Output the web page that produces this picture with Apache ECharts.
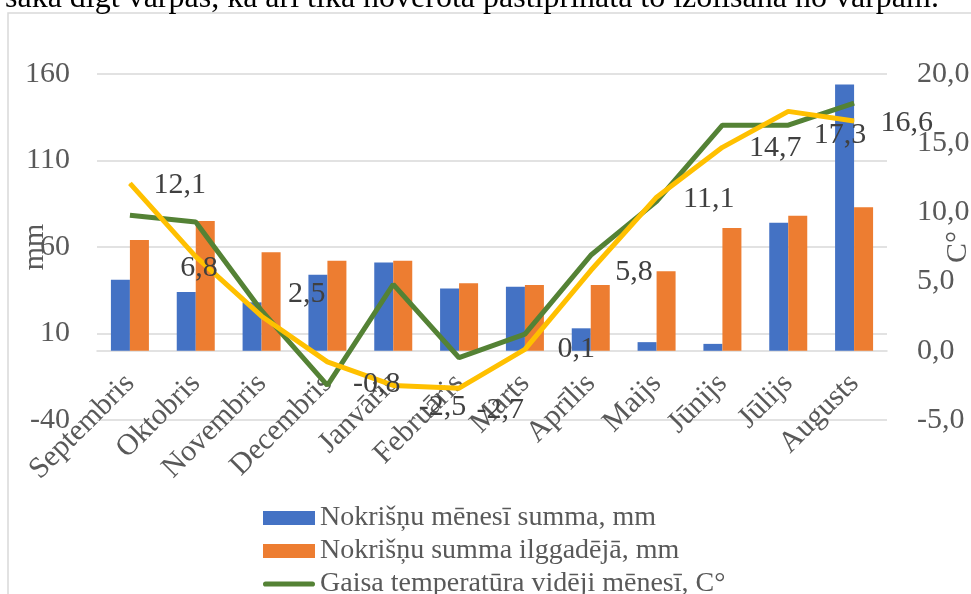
<!DOCTYPE html>
<html>
<head>
<meta charset="utf-8" />
<title>Nokrišņi un gaisa temperatūra</title>
<script src="https://cdn.jsdelivr.net/npm/echarts@6.0.0/dist/echarts.min.js"></script>
<style>
    *{
        margin:0;
        padding:0;
    }
    html, body{
        width:971px;
        height:594px;
        background:#fff;
        overflow:hidden;
    }
    #main{
        width:971px;
        height:594px;
    }
</style>
</head>
<body>
<div id="main"></div>
<script type="text/javascript">
    // dati
    var months = ['Septembris', 'Oktobris', 'Novembris', 'Decembris', 'Janvāris', 'Februāris',
        'Marts', 'Aprīlis', 'Maijs', 'Jūnijs', 'Jūlijs', 'Augusts'];
    var rainMonth = [41, 34, 28, 44, 51, 36, 37, 13, 5, 4, 74, 154];
    var rainLongTerm = [64, 75, 57, 52, 52, 39, 38, 38, 46, 71, 78, 83];
    var tempMonth = [9.8, 9.3, 2.9, -2.5, 4.8, -0.5, 1.2, 6.9, 10.8, 16.3, 16.3, 17.9];
    var tempLongTerm = [12.1, 6.8, 2.5, -0.8, -2.5, -2.7, 0.1, 5.8, 11.1, 14.7, 17.3, 16.6];

    var names = ['Nokrišņu mēnesī summa, mm', 'Nokrišņu summa ilggadējā, mm',
        'Gaisa temperatūra vidēji mēnesī, C°', 'Gaisa temperatūra ilggadējā, C°'];

    var serif = '"Liberation Serif", "Times New Roman", serif';

    // kur Excel pārbīdīja datu etiķetes
    var labelShift = [[23, 2], [-16, 11], [26, -22], [25, 22], [25, 22], [17, 22],
        [32, 0], [24, 2], [26, 2], [26, 1], [25, 24], [26, 2]];

    function comma(v, d) {
        return v.toFixed(d).replace('.', ',');
    }

    var myChart = echarts.init(document.getElementById('main'));

    var option = {
        animation: false,
        backgroundColor: '#fff',
        textStyle: {fontFamily: serif},
        graphic: [
            {
                type: 'rect',
                shape: {x: 8, y: 13, width: 1100, height: 700},
                style: {fill: 'none', stroke: '#d9d9d9', lineWidth: 1.5},
                silent: true
            },
            {
                type: 'text',
                x: 5,
                y: -1.7,
                style: {
                    text: 'sākā dīgt varpas, kā arī tika novērota pastiprināta to izolīšana no varpām.',
                    font: '32px ' + serif,
                    fill: '#000',
                    textVerticalAlign: 'middle'
                },
                silent: true
            }
        ],
        grid: {
            left: 97,
            right: 84,
            top: 74,
            bottom: 174,
            containLabel: false,
            outerBoundsMode: 'none'
        },
        legend: {
            orient: 'vertical',
            left: 258,
            top: 499,
            height: 150,
            itemWidth: 52,
            itemHeight: 14,
            itemGap: 5,
            textStyle: {fontFamily: serif, fontSize: 28, color: '#595959'},
            data: [
                {name: names[0], icon: 'rect'},
                {name: names[1], icon: 'rect'},
                {name: names[2], icon: 'path://M5,0 L95,0 A5,5 0 0 1 95,10 L5,10 A5,5 0 0 1 5,0 Z'}
            ]
        },
        xAxis: {
            type: 'category',
            data: months,
            axisLine: {show: true, onZero: true, lineStyle: {color: '#d9d9d9', width: 1.5}},
            axisTick: {show: false},
            axisLabel: {
                interval: 0,
                rotate: 45,
                margin: -41,
                fontFamily: serif,
                fontSize: 30,
                color: '#595959'
            }
        },
        yAxis: [
            {
                type: 'value',
                min: -40,
                max: 160,
                interval: 50,
                name: 'mm',
                nameLocation: 'middle',
                nameRotate: 90,
                nameGap: 47,
                nameMoveOverlap: false,
                nameTextStyle: {fontFamily: serif, fontSize: 30, color: '#595959'},
                axisLine: {show: false},
                axisTick: {show: false},
                axisLabel: {margin: 27, fontFamily: serif, fontSize: 30, color: '#595959'},
                splitLine: {lineStyle: {color: '#d9d9d9', width: 1.5}}
            },
            {
                type: 'value',
                min: -5,
                max: 20,
                interval: 5,
                name: 'C°',
                nameLocation: 'middle',
                nameRotate: 90,
                nameGap: 56,
                nameMoveOverlap: false,
                nameTextStyle: {fontFamily: serif, fontSize: 30, color: '#595959'},
                axisLine: {show: false},
                axisTick: {show: false},
                axisLabel: {
                    margin: 30,
                    fontFamily: serif,
                    fontSize: 30,
                    color: '#595959',
                    formatter: function (v) { return comma(v, 1); }
                },
                splitLine: {show: false}
            }
        ],
        series: [
            {
                name: names[0],
                type: 'bar',
                barWidth: 19,
                barGap: '0%',
                itemStyle: {color: '#4472c4'},
                data: rainMonth
            },
            {
                name: names[1],
                type: 'bar',
                barWidth: 19,
                barGap: '0%',
                itemStyle: {color: '#ed7d31'},
                data: rainLongTerm
            },
            {
                name: names[2],
                type: 'line',
                yAxisIndex: 1,
                symbol: 'none',
                lineStyle: {color: '#548235', width: 5},
                itemStyle: {color: '#548235'},
                data: tempMonth
            },
            {
                name: names[3],
                type: 'line',
                yAxisIndex: 1,
                symbol: 'circle',
                symbolSize: 1,
                lineStyle: {color: '#ffc000', width: 5},
                itemStyle: {color: '#ffc000'},
                label: {
                    show: true,
                    position: 'right',
                    distance: 0,
                    fontFamily: serif,
                    fontSize: 30,
                    color: '#404040',
                    formatter: function (p) { return comma(p.value, 1); }
                },
                data: tempLongTerm.map(function (v, i) {
                    return {value: v, label: {offset: labelShift[i]}};
                })
            }
        ]
    };

    myChart.setOption(option);
</script>
</body>
</html>
